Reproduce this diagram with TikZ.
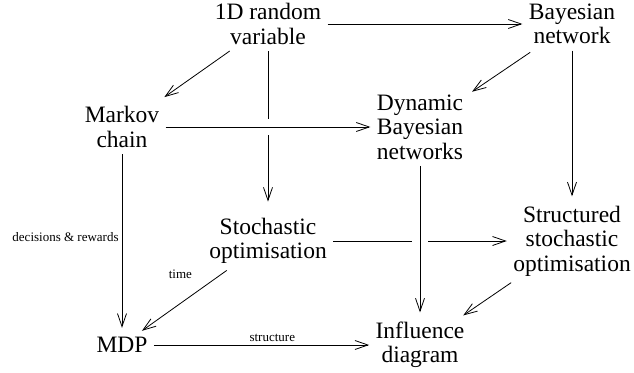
\documentclass[tikz,border=0pt]{standalone}
\usepackage{fontspec}
\setmainfont{Liberation Serif}
\newfontfamily\figfont{Liberation Serif}
\usetikzlibrary{arrows.meta}

\tikzset{
    topic/.style={align=center, inner sep=3pt, outer sep=3.5pt,
        font=\figfont\fontsize{23.5}{24.5}\selectfont},
    link/.style={-{Straight Barb[length=13pt,width=9pt]}, line width=0.8pt},
    tag/.style={inner sep=3pt, font=\figfont\fontsize{13}{15}\selectfont},
    gap/.style={draw=white, line width=16pt}
}

\begin{document}
\begin{tikzpicture}[x=1pt, y=-1pt]
    \useasboundingbox (0,0) rectangle (634,372);
    \node[topic] (rv)  at (268,24)  {1D random\\variable};
    \node[topic] (bn)  at (572,24)  {Bayesian\\network};
    \node[topic] (mc)  at (122,127) {Markov\\chain};
    \node[topic] (dbn) at (420,127) {Dynamic\\Bayesian\\networks};
    \node[topic] (so)  at (268,241) {Stochastic\\optimisation};
    \node[topic] (sso) at (572,241) {Structured\\stochastic\\optimisation};
    \node[topic] (mdp) at (122,345) {MDP};
    \node[topic] (id)  at (420,345) {Influence\\diagram};
    \draw[link] (rv) -- (bn);
    \draw[link, shorten >=5pt] (rv) -- (mc);
    \draw[link, shorten >=10pt] (rv) -- (so);
    \draw[link, shorten <=3pt, shorten >=3pt] (bn) -- (dbn);
    \draw[link, shorten >=3pt] (bn) -- (sso);
    \path[gap] (mc) -- (dbn);
    \draw[link] (mc) -- (dbn);
    \draw[link, shorten >=3pt] (mc) -- (mdp)
        node[tag, pos=0.47, left] (dr) {decisions \& rewards};
    \draw[link] (so) -- (sso);
    \path[gap] (dbn) -- (id);
    \draw[link, shorten >=3pt] (dbn) -- (id);
    \draw[link] (so) -- (mdp)
        node[tag, pos=0.3, anchor=south east, xshift=-6pt, yshift=6pt] (tm) {time};
    \draw[link] (sso) -- (id);
    \draw[link] (mdp) -- (id)
        node[tag, pos=0.55, above] (st) {structure};
\end{tikzpicture}
\end{document}
